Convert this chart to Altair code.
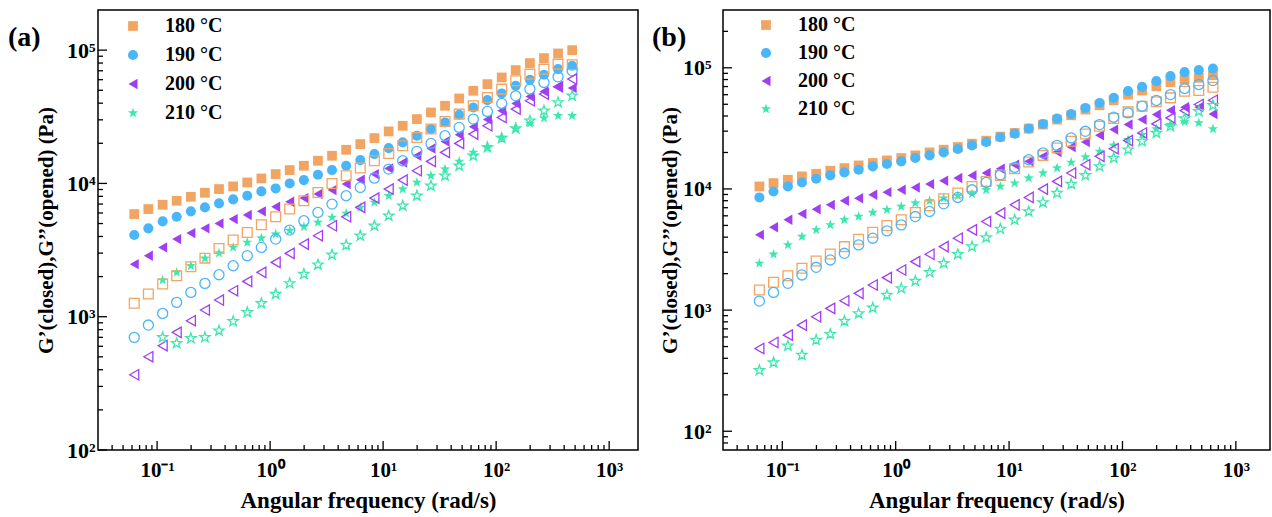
import altair as alt
import pandas as pd

# Angular frequency sweep (rad/s)
OMEGA = [0.0628, 0.0837, 0.112, 0.149, 0.199, 0.265, 0.353, 0.471, 0.628, 0.837,
         1.12, 1.49, 1.99, 2.65, 3.53, 4.71, 6.28, 8.37, 11.2, 14.9, 19.9, 26.5,
         35.3, 47.1, 62.8, 83.7, 112, 149, 199, 265, 353, 471, 628]

TEMPS = ["180 °C", "190 °C", "200 °C", "210 °C"]
COLORS = ["#F2A462", "#4AB6FA", "#A03FF2", "#3DE8AE"]

# (a) G' closed / G'' opened, Pa
A_CLOSED = {
    "180 °C": [5890, 6420, 6920, 7410, 7940, 8510, 9070, 9500, 10170, 10900, 11750, 12590,
               13570, 14790, 16130, 17880, 19720, 21880, 24550, 27070, 30380, 34080, 38240,
               43400, 49550, 55590, 62370, 70800, 79900, 87100, 94400, 100000],
    "190 °C": [4100, 4600, 5190, 5620, 6170, 6610, 7080, 7590, 8080, 8710, 9170, 10000,
               10590, 11610, 12590, 13570, 14960, 16600, 18410, 20310, 22780, 25560, 28680,
               32730, 37150, 42170, 47320, 54010, 59910, 65310, 72030, 76300],
    "200 °C": [2480, 2870, 3310, 3820, 4240, 4600, 5010, 5400, 5790, 6170, 6680, 7290,
               7760, 8320, 8910, 9890, 10650, 11750, 12960, 14370, 16130, 18300, 20650,
               23170, 26610, 30200, 35080, 39810, 44930, 48980, 53090, 51880],
    "210 °C": [1880, 2150, 2410, 2740, 3000, 3310, 3610, 3890, 4170, 4420, 4730, 5100,
               5560, 5960, 6610, 7200, 8080, 9070, 10170, 11420, 12810, 14620, 17080,
               18840, 22130, 25560, 28180, 30900, 32180, 32180],
}
A_OPENED = {
    "180 °C": [1260, 1480, 1760, 2030, 2370, 2750, 3250, 3760, 4290, 4900, 5620, 6420,
               7410, 8560, 10000, 11420, 13030, 14790, 16790, 19170, 22130, 25560, 29170,
               33110, 38240, 44160, 51000, 58880, 66070, 72030, 78520, 77620],
    "190 °C": [700, 866, 1059, 1281, 1522, 1778, 2065, 2412, 2868, 3311, 3824, 4467,
               5248, 6063, 6998, 8079, 9333, 10960, 12810, 14790, 17380, 19950, 22780,
               26300, 30380, 34670, 39810, 45450, 51000, 57210, 63100, 69980],
    "200 °C": [367, 501, 606, 763, 933, 1122, 1334, 1567, 1841, 2151, 2556, 2985, 3508,
               4051, 4814, 5623, 6607, 7762, 9070, 10590, 12450, 14620, 17080, 19950,
               23440, 27070, 31260, 36110, 41690, 46770, 53090, 60630],
    "210 °C": [700, 631, 688, 700, 785, 923, 1078, 1259, 1479, 1778, 2089, 2455, 2917,
               3447, 4051, 4814, 5722, 6802, 8079, 9605, 11420, 13570, 16130, 18620,
               21880, 25850, 29510, 35080, 40510, 45450],
}

# (b) G' closed / G'' opened, Pa
B_CLOSED = {
    "180 °C": [10490, 11170, 11910, 12690, 13350, 14140, 14860, 15640, 16360, 17210, 17990,
               18930, 20040, 21090, 22190, 23650, 25040, 27040, 28980, 31500, 33990, 37360,
               40550, 45170, 49070, 53970, 60100, 64870, 70470, 76050, 79960, 82640, 86950],
    "190 °C": [8510, 9530, 10490, 11320, 12140, 12940, 13700, 14410, 15360, 16060, 16890,
               17990, 18930, 20040, 21360, 22900, 24430, 26690, 28620, 31500, 34410, 38100,
               41600, 46650, 51290, 56450, 64140, 69640, 77590, 85310, 92060, 95640, 98740],
    "200 °C": [4180, 4830, 5560, 6230, 6800, 7390, 7980, 8390, 8950, 9410, 9840, 10290,
               10960, 11690, 12300, 12940, 13530, 14690, 15850, 16890, 18580, 20170, 22190,
               24430, 27730, 30900, 33990, 37360, 41110, 44660, 47240, 47240, 41600],
    "210 °C": [2430, 2890, 3450, 4050, 4590, 5050, 5560, 5920, 6390, 6730, 7160, 7640,
               7980, 8390, 8770, 9120, 9840, 10490, 11170, 12300, 13530, 14860, 16560,
               18320, 20420, 22900, 25520, 28070, 31260, 33990, 35730, 35080, 31260],
}
B_OPENED = {
    "180 °C": [1465, 1695, 1924, 2213, 2544, 2904, 3340, 3843, 4393, 4988, 5560, 6393,
               7261, 8293, 9247, 10490, 11530, 12940, 14690, 16680, 18930, 21770, 24720,
               28440, 32890, 38100, 43260, 48200, 52360, 56450, 64140, 64870, 69180],
    "190 °C": [1187, 1400, 1663, 1950, 2256, 2594, 2944, 3452, 3920, 4505, 5052, 5918,
               6513, 7536, 8507, 9840, 11320, 13090, 15060, 17420, 19800, 22900, 26360,
               29920, 33990, 39090, 42440, 48200, 53700, 60100, 67450, 72780, 78520],
    "200 °C": [482, 540, 621, 751, 881, 1033, 1195, 1374, 1611, 1853, 2143, 2512, 2891,
               3344, 3917, 4592, 5383, 6310, 7396, 8507, 9970, 11540, 13530, 15850, 18580,
               21480, 25060, 28980, 34410, 38570, 44360, 49770, 54010],
    "210 °C": [318, 369, 507, 425, 565, 633, 811, 938, 1045, 1330, 1510, 1738, 2049, 2432,
               2891, 3344, 3969, 4677, 5556, 6513, 7735, 9247, 10960, 12940, 15350, 17990,
               21090, 24720, 28980, 32890, 38100, 43760, 49070],
}

X_TICKS = [0.1, 1, 10, 100, 1000]
X_TICK_LABELS = ["10⁻¹", "10⁰", "10¹", "10²", "10³"]
Y_TICKS = [100, 1000, 10000, 100000]
Y_TICK_LABELS = ["10²", "10³", "10⁴", "10⁵"]

FONT = "Liberation Serif"
STAR = ("M0,-1L0.235,-0.324L0.951,-0.309L0.38,0.124L0.588,0.809L0,0.4"
        "L-0.588,0.809L-0.38,0.124L-0.951,-0.309L-0.235,-0.324Z")
SHAPES = ["square", "circle", "triangle-left", STAR]
SIZES = [95, 115, 210, 230]


def label_expr(values, labels):
    expr = "''"
    for v, lab in reversed(list(zip(values, labels))):
        expr = f"abs(datum.value - {v}) < {v} * 0.01 ? '{lab}' : ({expr})"
    return expr


def minor_ticks(lo, hi):
    out = []
    d = 1e-3
    while d < hi * 10:
        for m in range(1, 10):
            v = m * d
            if lo < v < hi:
                out.append(v)
        d *= 10
    return out


def long_table(omega, series):
    rows = []
    for t in TEMPS:
        vals = series[t]
        for w, g in zip(omega[len(omega) - len(vals):], vals):
            rows.append({"w": w, "G": g, "T": t})
    return pd.DataFrame(rows)


def panel(omega, closed, opened, xdom, ydom, width, height, tag, tag_x,
          leg_x, leg_y, row_pad, y_label_pad, y_title_pad):
    xs = alt.Scale(type="log", domain=xdom, nice=False)
    ys = alt.Scale(type="log", domain=ydom, nice=False)
    cs = alt.Scale(domain=TEMPS, range=COLORS)
    ss = alt.Scale(domain=TEMPS, range=SHAPES)
    zs = alt.Scale(domain=TEMPS, range=SIZES)

    x_axis = alt.Axis(values=X_TICKS, labelExpr=label_expr(X_TICKS, X_TICK_LABELS),
                      ticks=False, domain=False, grid=False, labelFont=FONT,
                      labelFontSize=21, labelFontWeight="bold", labelPadding=9,
                      labelColor="black", labelOverlap=False, labelFlush=False,
                      title="Angular frequency (rad/s)", titleFont=FONT,
                      titleFontSize=23, titleFontWeight="bold", titleColor="black",
                      titlePadding=9)
    y_axis = alt.Axis(values=Y_TICKS, labelExpr=label_expr(Y_TICKS, Y_TICK_LABELS),
                      ticks=False, domain=False, grid=False, labelFont=FONT,
                      labelFontSize=22, labelFontWeight="bold", labelPadding=y_label_pad,
                      labelColor="black", labelOverlap=False, labelFlush=False,
                      title="G’(closed),G’’(opened) (Pa)", titleFont=FONT,
                      titleFontSize=21, titleFontWeight="bold", titleColor="black",
                      titlePadding=y_title_pad)
    legend = alt.Legend(title=None, orient="none", legendX=leg_x, legendY=leg_y,
                        labelFont=FONT, labelFontSize=20, labelFontWeight="bold",
                        labelColor="black", symbolSize=140, symbolStrokeWidth=0,
                        symbolOpacity=1, rowPadding=row_pad, labelOffset=22, padding=0)

    filled = alt.Chart(long_table(omega, closed)).mark_point(
        filled=True, opacity=1
    ).encode(
        x=alt.X("w:Q", scale=xs, axis=x_axis),
        y=alt.Y("G:Q", scale=ys, axis=y_axis),
        color=alt.Color("T:N", scale=cs, legend=legend),
        shape=alt.Shape("T:N", scale=ss, legend=legend),
        size=alt.Size("T:N", scale=zs, legend=None),
    )
    hollow = alt.Chart(long_table(omega, opened)).mark_point(
        filled=False, opacity=1, strokeWidth=1.3
    ).encode(
        x=alt.X("w:Q", scale=xs, axis=x_axis),
        y=alt.Y("G:Q", scale=ys, axis=y_axis),
        color=alt.Color("T:N", scale=cs, legend=None),
        shape=alt.Shape("T:N", scale=ss, legend=None),
        size=alt.Size("T:N", scale=zs, legend=None),
    )

    # inward-pointing ticks on the bottom and left axes
    xmaj = pd.DataFrame({"w": [v for v in X_TICKS if xdom[0] < v < xdom[1]]})
    xmin = pd.DataFrame({"w": [v for v in minor_ticks(*xdom) if v not in X_TICKS]})
    ymaj = pd.DataFrame({"G": [v for v in Y_TICKS if ydom[0] <= v < ydom[1]]})
    ymin = pd.DataFrame({"G": [v for v in minor_ticks(*ydom) if v not in Y_TICKS]})

    def xtick(df, length):
        return alt.Chart(df).mark_rule(color="black", strokeWidth=1.3).encode(
            x=alt.X("w:Q", scale=xs, axis=x_axis),
            y=alt.value(height), y2=alt.value(height - length))

    def ytick(df, length):
        return alt.Chart(df).mark_rule(color="black", strokeWidth=1.3).encode(
            y=alt.Y("G:Q", scale=ys, axis=y_axis),
            x=alt.value(0), x2=alt.value(length))

    tag_layer = alt.Chart(pd.DataFrame({"t": [tag]})).mark_text(
        font=FONT, fontSize=28, fontWeight="bold", align="left",
        baseline="middle", color="black"
    ).encode(text="t:N", x=alt.value(tag_x), y=alt.value(28))

    return alt.layer(
        filled, hollow, xtick(xmin, 5), xtick(xmaj, 9), ytick(ymin, 5),
        ytick(ymaj, 9), tag_layer
    ).properties(width=width, height=height)


left = panel(OMEGA[:32], A_CLOSED, A_OPENED, [0.03, 1800], [100, 200000],
             540, 440, "(a)", -90, 25, 6, 9, 3, 10)
right = panel(OMEGA, B_CLOSED, B_OPENED, [0.03, 2000], [70, 300000],
              547, 440, "(b)", -71, 33, 5, 8, 12, 2)

chart = alt.hconcat(left, right, spacing=12).resolve_scale(
    x="independent", y="independent", color="independent",
    shape="independent", size="independent"
).resolve_legend(
    color="independent", shape="independent", size="independent"
).configure_view(
    stroke="black", strokeWidth=1.5
).properties(
    padding={"left": 7, "top": 9, "right": 0, "bottom": 0}
)

chart.save("out.html", embed_options={"renderer": "svg", "actions": False})
